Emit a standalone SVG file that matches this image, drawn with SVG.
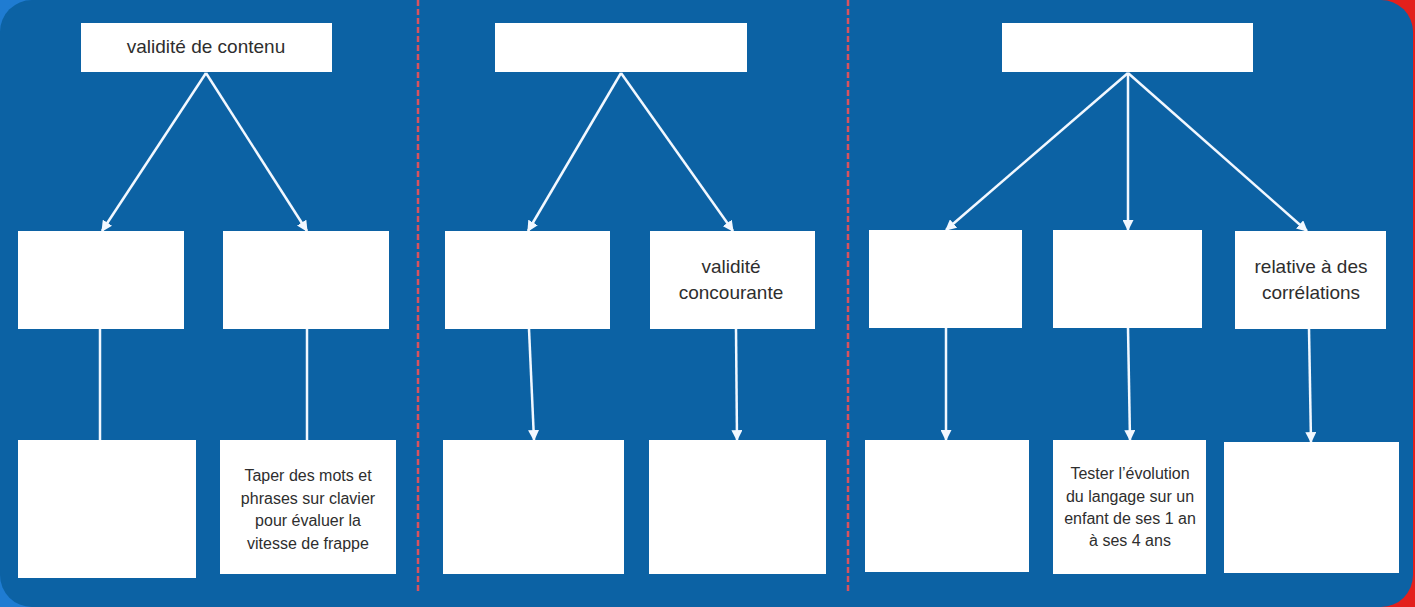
<svg xmlns="http://www.w3.org/2000/svg" width="1415" height="607" viewBox="0 0 1415 607">
  <defs>
    <marker id="arr" viewBox="0 0 10 10" refX="9" refY="5" markerWidth="11" markerHeight="11" markerUnits="userSpaceOnUse" orient="auto">
      <path d="M0,0 L10,5 L0,10 z" fill="#F2F8FF"/>
    </marker>
    <linearGradient id="bgg" x1="0" y1="0" x2="1" y2="0">
      <stop offset="0" stop-color="#1F7CD2"/>
      <stop offset="0.5" stop-color="#1F7CD2"/>
      <stop offset="0.5" stop-color="#E3201C"/>
      <stop offset="1" stop-color="#E3201C"/>
    </linearGradient>
  </defs>
  <style>
    .box { fill: #FFFFFF; }
    .t { font-family: "Liberation Sans", Arial, sans-serif; fill: #2E2E2E; text-anchor: middle; }
    .big { font-size: 19px; }
    .small { font-size: 16px; }
    .conn line { stroke: #F2F8FF; stroke-width: 2.5; fill: none; }
    .div { stroke: #D9525E; stroke-width: 2.5; stroke-dasharray: 6 3; }
  </style>

  <rect x="0" y="0" width="1415" height="607" fill="url(#bgg)"/>
  <rect x="0" y="0" width="1413" height="607" rx="32" ry="32" fill="#0C62A4"/>

  <line class="div" x1="418" y1="0" x2="418" y2="594"/>
  <line class="div" x1="848" y1="0" x2="848" y2="592"/>

  <g class="conn">
    <line x1="206" y1="73" x2="102" y2="231" marker-end="url(#arr)"/>
    <line x1="206" y1="73" x2="307" y2="231" marker-end="url(#arr)"/>
    <line x1="100" y1="329" x2="100" y2="440"/>
    <line x1="307" y1="329" x2="307" y2="440"/>

    <line x1="621" y1="73" x2="528" y2="231" marker-end="url(#arr)"/>
    <line x1="621" y1="73" x2="733" y2="231" marker-end="url(#arr)"/>
    <line x1="529" y1="329" x2="534" y2="440" marker-end="url(#arr)"/>
    <line x1="736" y1="329" x2="737" y2="440" marker-end="url(#arr)"/>

    <line x1="1128" y1="73" x2="946" y2="230" marker-end="url(#arr)"/>
    <line x1="1128" y1="73" x2="1128" y2="230" marker-end="url(#arr)"/>
    <line x1="1128" y1="73" x2="1307" y2="231" marker-end="url(#arr)"/>
    <line x1="946" y1="328" x2="946" y2="440" marker-end="url(#arr)"/>
    <line x1="1128" y1="328" x2="1130" y2="440" marker-end="url(#arr)"/>
    <line x1="1309" y1="329" x2="1311" y2="442" marker-end="url(#arr)"/>
  </g>

  <!-- Panel 1 -->
  <g id="p1-top"><rect class="box" x="81" y="23" width="251" height="49"/><text class="t big" x="206" y="53">validité de contenu</text></g>
  <g id="p1-mid-left"><rect class="box" x="18" y="231" width="166" height="98"/></g>
  <g id="p1-mid-right"><rect class="box" x="223" y="231" width="166" height="98"/></g>
  <g id="p1-bot-left"><rect class="box" x="18" y="440" width="178" height="138"/></g>
  <g id="p1-bot-right"><rect class="box" x="220" y="440" width="176" height="134"/>
    <text class="t small" x="308" y="481">Taper des mots et</text>
    <text class="t small" x="308" y="503.5">phrases sur clavier</text>
    <text class="t small" x="308" y="526">pour évaluer la</text>
    <text class="t small" x="308" y="548.5">vitesse de frappe</text>
  </g>

  <!-- Panel 2 -->
  <g id="p2-top"><rect class="box" x="495" y="23" width="252" height="49"/></g>
  <g id="p2-mid-left"><rect class="box" x="445" y="231" width="165" height="98"/></g>
  <g id="p2-mid-right"><rect class="box" x="650" y="231" width="165" height="98"/>
    <text class="t big" x="731" y="273">validité</text>
    <text class="t big" x="731" y="299">concourante</text>
  </g>
  <g id="p2-bot-left"><rect class="box" x="443" y="440" width="181" height="134"/></g>
  <g id="p2-bot-right"><rect class="box" x="649" y="440" width="177" height="134"/></g>

  <!-- Panel 3 -->
  <g id="p3-top"><rect class="box" x="1002" y="23" width="251" height="49"/></g>
  <g id="p3-mid-a"><rect class="box" x="869" y="230" width="153" height="98"/></g>
  <g id="p3-mid-b"><rect class="box" x="1053" y="230" width="149" height="98"/></g>
  <g id="p3-mid-c"><rect class="box" x="1235" y="231" width="151" height="98"/>
    <text class="t big" x="1311" y="273">relative à des</text>
    <text class="t big" x="1311" y="299">corrélations</text>
  </g>
  <g id="p3-bot-a"><rect class="box" x="865" y="440" width="164" height="132"/></g>
  <g id="p3-bot-b"><rect class="box" x="1053" y="440" width="153" height="134"/>
    <text class="t small" x="1130" y="479">Tester l’évolution</text>
    <text class="t small" x="1130" y="501.5">du langage sur un</text>
    <text class="t small" x="1130" y="524">enfant de ses 1 an</text>
    <text class="t small" x="1130" y="546">à ses 4 ans</text>
  </g>
  <g id="p3-bot-c"><rect class="box" x="1224" y="442" width="175" height="131"/></g>
</svg>
